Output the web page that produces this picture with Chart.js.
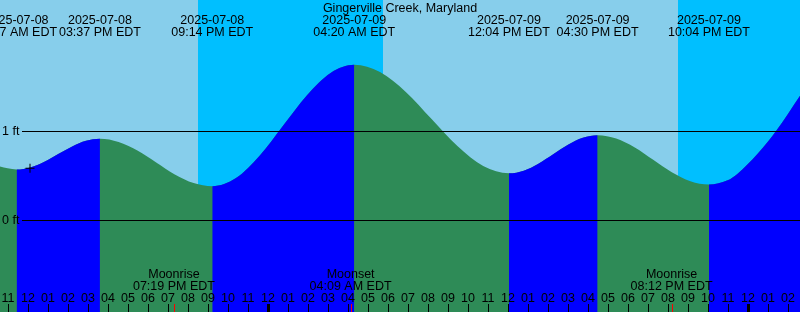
<!DOCTYPE html>
<html>
<head>
<meta charset="utf-8">
<script src="https://cdn.jsdelivr.net/npm/chart.js@4/dist/chart.umd.min.js"></script>
<style>
  html, body { margin: 0; padding: 0; background: #87ceeb; }
  #wrap { width: 800px; height: 312px; }
</style>
</head>
<body>
<div id="wrap"><canvas id="tideChart" width="800" height="312"></canvas></div>
<script>
// ── DATA (hours counted from 2025-07-08 00:00 EDT, heights in ft) ──
const stationName = 'Gingerville Creek, Maryland';

const tideHours = [10.62, 11.0, 11.45, 12.14, 12.84, 13.53, 14.23, 14.92, 15.617,
                   16.55, 17.49, 18.43, 19.36, 20.30, 21.233,
                   22.42, 23.60, 24.78, 25.97, 27.15, 28.333,
                   29.62, 30.91, 32.20, 33.49, 34.78, 36.067,
                   36.81, 37.54, 38.28, 39.02, 39.76, 40.5,
                   41.43, 42.36, 43.28, 44.21, 45.14, 46.067,
                   47.0, 47.5, 48.0, 48.5, 49.0, 49.44, 50.0, 50.63, 51.5, 52.3];
const tideFeet  = [0.596, 0.575, 0.562, 0.585, 0.648, 0.735, 0.821, 0.884, 0.907,
                   0.871, 0.774, 0.641, 0.507, 0.410, 0.374,
                   0.465, 0.715, 1.056, 1.397, 1.647, 1.738,
                   1.656, 1.434, 1.129, 0.825, 0.602, 0.520,
                   0.549, 0.627, 0.733, 0.840, 0.918, 0.946,
                   0.909, 0.808, 0.670, 0.531, 0.430, 0.393,
                   0.440, 0.515, 0.620, 0.740, 0.870, 1.000, 1.180, 1.393, 1.680, 1.880];

const eventHours = [11.45, 15.617, 21.233, 28.333, 36.067, 40.5, 46.067];
const eventDates = ['2025-07-08', '2025-07-08', '2025-07-08', '2025-07-09', '2025-07-09', '2025-07-09', '2025-07-09'];
const eventTimes = ['11:27 AM EDT', '03:37 PM EDT', '09:14 PM EDT', '04:20 AM EDT', '12:04 PM EDT', '04:30 PM EDT', '10:04 PM EDT'];

const moonHours = [19.317, 28.15, 44.2];
const moonNames = ['Moonrise', 'Moonset', 'Moonrise'];
const moonTimes = ['07:19 PM EDT', '04:09 AM EDT', '08:12 PM EDT'];

const nightStart = [20.52, 44.52];
const nightEnd   = [29.77, 53.0];

const hourTicks  = [11, 12, 13, 14, 15, 16, 17, 18, 19, 20, 21, 22, 23, 24, 25, 26, 27, 28, 29, 30,
                    31, 32, 33, 34, 35, 36, 37, 38, 39, 40, 41, 42, 43, 44, 45, 46, 47, 48, 49, 50];
const hourLabels = ['11','12','01','02','03','04','05','06','07','08','09','10','11','12','01','02','03','04','05','06',
                    '07','08','09','10','11','12','01','02','03','04','05','06','07','08','09','10','11','12','01','02'];
const midnights  = [24, 48];

const levelLines  = [0, 1];
const levelLabels = ['0 ft', '1 ft'];

const nowMark = { x: 12.12, y: 0.576 };

const X_MIN = 10.62, X_MAX = 50.62;
const Y_MIN = -1.0393, Y_MAX = 2.4663;

const FONT = '12.5px "Liberation Sans", Arial, sans-serif';
const RISING = '#0000ff';
const FALLING = '#2e8b57';

// ── BACKGROUND / OVERLAY PLUGIN ──
const tidePlugin = {
  id: 'tideDecor',
  beforeDatasetsDraw(chart) {
    const { ctx, chartArea: a, scales: { x } } = chart;
    ctx.save();
    ctx.fillStyle = '#87ceeb';
    ctx.fillRect(a.left, a.top, a.right - a.left, a.bottom - a.top);
    ctx.fillStyle = '#00bfff';
    nightStart.forEach((s, i) => {
      const x0 = Math.round(x.getPixelForValue(s));
      const x1 = Math.round(x.getPixelForValue(nightEnd[i]));
      ctx.fillRect(x0, a.top, x1 - x0, a.bottom - a.top);
    });
    ctx.restore();
  },
  afterDatasetsDraw(chart) {
    const { ctx, chartArea: a, scales: { x, y } } = chart;
    ctx.save();
    ctx.fillStyle = '#000';
    ctx.strokeStyle = '#000';
    ctx.font = FONT;

    // level lines
    ctx.lineWidth = 1;
    levelLines.forEach((v, i) => {
      const py = Math.round(y.getPixelForValue(v)) + 0.5;
      ctx.beginPath();
      ctx.moveTo(22, py);
      ctx.lineTo(a.right, py);
      ctx.stroke();
      ctx.textAlign = 'left';
      ctx.textBaseline = 'middle';
      ctx.fillText(levelLabels[i], 2, py);
    });

    // title + tide event labels
    ctx.textAlign = 'center';
    ctx.textBaseline = 'alphabetic';
    ctx.fillText(stationName, 400, 11.5);
    eventHours.forEach((h, i) => {
      const px = x.getPixelForValue(h);
      ctx.fillText(eventDates[i], px, 23.5);
      ctx.fillText(eventTimes[i], px, 36);
    });

    // moon labels
    moonHours.forEach((h, i) => {
      const px = x.getPixelForValue(h);
      ctx.fillText(moonNames[i], px, 278);
      ctx.fillText(moonTimes[i], px, 289.5);
    });

    // hour ticks
    hourTicks.forEach((h, i) => {
      const px = Math.round(x.getPixelForValue(h));
      ctx.fillText(hourLabels[i], px, 301.5);
      const w = midnights.includes(h) ? 3 : 1;
      ctx.fillRect(px - Math.floor(w / 2), 304, w, 8);
    });
    ctx.fillStyle = '#ff0000';
    moonHours.forEach(h => {
      const px = Math.round(x.getPixelForValue(h));
      ctx.fillRect(px, 304, 1, 8);
    });
    ctx.restore();
  }
};

// ── CHART ──
function initTideChart() {
  const el = document.getElementById('tideChart');
  const points = tideHours.map((h, i) => ({ x: h, y: tideFeet[i] }));

  const curve = {
    borderWidth: 0,
    borderColor: 'rgba(0,0,0,0)',
    fill: 'start',
    pointRadius: 0,
    cubicInterpolationMode: 'monotone'
  };

  new Chart(el, {
    type: 'line',
    data: {
      datasets: [
        // falling water everywhere underneath
        { ...curve, data: points, order: 3, backgroundColor: FALLING },
        // rising water painted on top
        {
          ...curve, data: points, order: 2, backgroundColor: RISING,
          segment: {
            backgroundColor: c => (c.p1.parsed.y >= c.p0.parsed.y ? RISING : 'rgba(0,0,0,0)')
          }
        },
        {
          data: [nowMark],
          order: 0,
          showLine: false,
          pointStyle: 'cross',
          pointRadius: 4.5,
          pointBorderColor: '#000',
          pointBorderWidth: 1,
          borderColor: '#000',
          fill: false
        }
      ]
    },
    options: {
      responsive: false,
      animation: false,
      layout: { padding: 0, autoPadding: false },
      plugins: { legend: { display: false }, tooltip: { enabled: false } },
      scales: {
        x: { type: 'linear', min: X_MIN, max: X_MAX, display: false },
        y: { min: Y_MIN, max: Y_MAX, display: false }
      }
    },
    plugins: [tidePlugin]
  });
}

document.addEventListener('DOMContentLoaded', initTideChart);
</script>
</body>
</html>
